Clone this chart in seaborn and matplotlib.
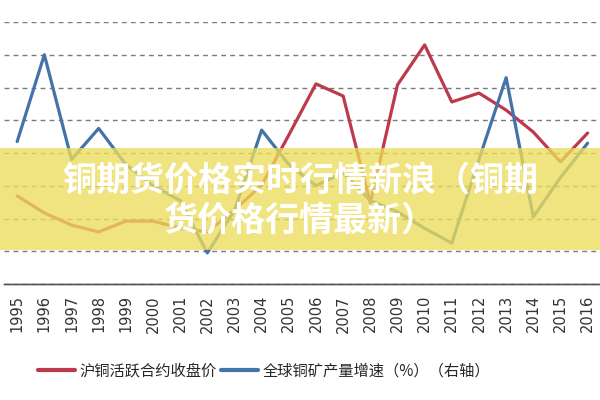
import numpy as np
import pandas as pd
import matplotlib
matplotlib.use("Agg")
import matplotlib.pyplot as plt
from matplotlib.lines import Line2D
from matplotlib.patches import Rectangle
import seaborn as sns

years = ["1995", "1996", "1997", "1998", "1999", "2000", "2001", "2002", "2003", "2004", "2005",
         "2006", "2007", "2008", "2009", "2010", "2011", "2012", "2013", "2014", "2015", "2016"]
copper_price = [26900, 21700, 18000, 15900, 19200, 19200, 17100, 15900, 22600, 30200, 45500,
                61100, 57400, 24700, 60800, 73000, 55600, 58300, 53100, 46400, 37300, 46100]
mine_growth = [4.7, 10.0, 3.6, 5.5, 3.3, 2.0, 1.1, -2.1, 0.5, 5.4, 3.3,
               2.0, 2.8, 1.1, 0.4, -0.6, -1.5, 3.6, 8.6, 0.1, 2.5, 4.6]
label_price = "沪铜活跃合约收盘价"
label_growth = "全球铜矿产量增速（%）（右轴）"
title_text = "铜期货价格实时行情新浪（铜期\n货价格行情最新）"

sns.set_style("white")
plt.rcParams["font.family"] = ["Noto Sans CJK SC", "DejaVu Sans"]

red = "#bd3a4d"
blue = "#4373a8"

df = pd.DataFrame({"idx": np.arange(len(years)), "price": copper_price, "growth": mine_growth})

fig = plt.figure(figsize=(6, 4), dpi=100)
fig.patch.set_facecolor("white")
ax = fig.add_axes([0.006, 0.29, 0.996, 0.655])
ax2 = ax.twinx()

sns.lineplot(data=df, x="idx", y="price", ax=ax, color=red, linewidth=2.3, legend=False)
sns.lineplot(data=df, x="idx", y="growth", ax=ax2, color=blue, linewidth=2.3, legend=False)

ax.set_xlim(-0.5, len(years) - 0.5)
ax.set_ylim(0, 80000)
ax2.set_ylim(-4, 12)
ax.set_yticks(np.arange(0, 80001, 10000))
ax.yaxis.grid(True, color="#7a7a7a", linestyle=(0, (3.5, 3)), linewidth=1.0)
ax.xaxis.grid(False)
ax.set_axisbelow(True)
ax.set_yticklabels([])
ax.tick_params(axis="y", length=0)
ax2.set_yticks([])
ax2.tick_params(axis="y", length=0)
ax.set_xlabel("")
ax.set_ylabel("")
ax2.set_ylabel("")

ax.set_xticks(np.arange(len(years)))
ax.set_xticklabels(years, rotation=90, fontsize=10.5, color="#333333", family="DejaVu Sans")
ax.tick_params(axis="x", which="major", length=0, pad=8)
ax.set_xticks(np.arange(len(years) + 1) - 0.5, minor=True)
ax.tick_params(axis="x", which="minor", length=6, width=1, color="#555555", direction="out")

for a in (ax, ax2):
    for s in ("top", "left", "right"):
        a.spines[s].set_visible(False)
    a.spines["bottom"].set_color("#555555")
    a.spines["bottom"].set_linewidth(1.0)

handles = [Line2D([], [], color=red, linewidth=3), Line2D([], [], color=blue, linewidth=3)]
fig.legend(handles, [label_price, label_growth], loc="center", bbox_to_anchor=(0.44, 0.072),
           ncol=2, frameon=False, fontsize=11, handlelength=2.4, handletextpad=0.3,
           columnspacing=0.3)

# translucent yellow banner with title
fig.add_artist(Rectangle((0, 0.375), 1, 0.255, transform=fig.transFigure,
                         facecolor="#ecdd5c", alpha=0.78, edgecolor="none", zorder=5))
fig.text(0.5, 0.5, title_text, ha="center", va="center", fontsize=24.5, fontweight="heavy",
         color="white", linespacing=1.2, zorder=6)

fig.savefig("out.png", dpi=100)
